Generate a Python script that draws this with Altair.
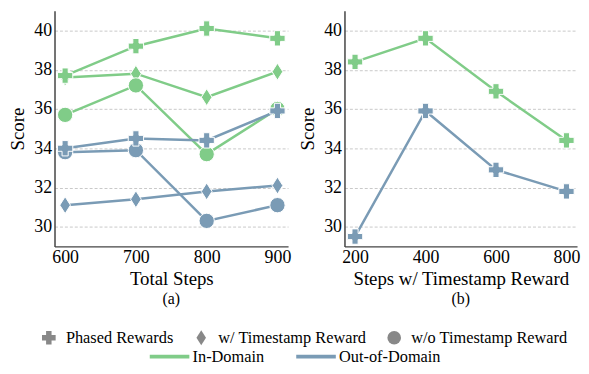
import altair as alt
import pandas as pd

# ---- data ----
steps_a = [600, 700, 800, 900]
in_phased_a = [37.7, 39.2, 40.1, 39.6]
in_ts_a = [37.6, 37.8, 36.6, 37.9]
in_nots_a = [35.7, 37.2, 33.7, 36.0]
out_phased_a = [34.0, 34.5, 34.4, 35.9]
out_ts_a = [31.1, 31.4, 31.8, 32.1]
out_nots_a = [33.8, 33.9, 30.3, 31.1]

steps_b = [200, 400, 600, 800]
in_phased_b = [38.4, 39.6, 36.9, 34.4]
out_phased_b = [29.5, 35.9, 32.9, 31.8]

methods = ["Phased Rewards", "w/ Timestamp Reward", "w/o Timestamp Reward"]
domains = ["In-Domain", "Out-of-Domain"]
colors = ["#80cc88", "#7a9bb5"]
shapes = ["cross", "M0,-1.1L0.7,0L0,1.1L-0.7,0Z", "circle"]

rows_a = []
order = 0
for dom, series in [
    ("In-Domain", [("w/ Timestamp Reward", in_ts_a), ("w/o Timestamp Reward", in_nots_a), ("Phased Rewards", in_phased_a)]),
    ("Out-of-Domain", [("w/ Timestamp Reward", out_ts_a), ("w/o Timestamp Reward", out_nots_a), ("Phased Rewards", out_phased_a)]),
]:
    for m, vals in series:
        for s, v in zip(steps_a, vals):
            rows_a.append({"step": s, "score": v, "domain": dom, "method": m, "ord": order})
            order += 1
df_a = pd.DataFrame(rows_a)

rows_b = []
for dom, vals in [("In-Domain", in_phased_b), ("Out-of-Domain", out_phased_b)]:
    for s, v in zip(steps_b, vals):
        rows_b.append({"step": s, "score": v, "domain": dom, "method": "Phased Rewards"})
df_b = pd.DataFrame(rows_b)

FONT = "Liberation Serif"

color_scale = alt.Scale(domain=domains, range=colors)
shape_scale = alt.Scale(domain=methods, range=shapes)

color_legend = alt.Legend(
    title=None, orient="none", direction="horizontal", legendX=108, legendY=341,
    symbolType="M-4,0L4,0", symbolSize=100, symbolStrokeWidth=4,
    labelFontSize=16.5, labelFont=FONT, labelColor="black",
    columnPadding=24, labelOffset=15,
)
shape_legend = alt.Legend(
    title=None, orient="none", direction="horizontal", legendX=-14, legendY=322,
    symbolSize=190, symbolFillColor="#888888", symbolStrokeColor="#888888", symbolStrokeWidth=0,
    labelFontSize=16.5, labelFont=FONT, labelColor="black",
    columnPadding=19, labelOffset=9,
)

y_enc = alt.Y("score:Q", title="Score",
              scale=alt.Scale(domain=[29, 41], nice=False, zero=False),
              axis=alt.Axis(values=[30, 32, 34, 36, 38, 40]))


def panel(df, xdom, xvals, xtitle, sub, w):
    x_enc = alt.X("step:Q", title=xtitle,
                  scale=alt.Scale(domain=xdom, nice=False, zero=False),
                  axis=alt.Axis(values=xvals, grid=False))
    base = alt.Chart(df)
    lines = base.mark_line(strokeWidth=2.5).encode(
        x=x_enc, y=y_enc,
        color=alt.Color("domain:N", scale=color_scale, legend=color_legend),
        detail="method:N",
    )
    pts = base.mark_point(filled=True, size=240, opacity=1, stroke="white", strokeWidth=1).encode(
        x=x_enc, y=y_enc,
        color=alt.Color("domain:N", scale=color_scale, legend=color_legend),
        shape=alt.Shape("method:N", scale=shape_scale, legend=shape_legend),
    )
    if "ord" in df.columns:
        pts = pts.encode(order="ord:Q")
    return alt.layer(lines, pts).properties(
        width=w, height=238,
        title=alt.TitleParams(sub, orient="bottom", fontSize=16, font=FONT,
                              fontWeight="normal", offset=2, color="black"),
    )


pa = panel(df_a, [585, 915], steps_a, "Total Steps", "(a)", 236)
pb = panel(df_b, [170, 830], steps_b, "Steps w/ Timestamp Reward", "(b)", 235)

chart = alt.hconcat(pa, pb, spacing=6).resolve_scale(
    color="shared", shape="shared"
).properties(padding=0).configure_view(stroke="transparent").configure_axis(
    labelFont=FONT, titleFont=FONT, labelFontSize=18, titleFontSize=19,
    titleFontWeight="normal", labelColor="black", titleColor="black",
    domainColor="#444444", domainWidth=1.5, ticks=False,
    gridColor="#c8c8c8", gridDash=[3, 2], gridWidth=1,
).configure_axisY(labelPadding=3, titlePadding=6).configure_axisX(
    labelPadding=2, titlePadding=4
).configure_legend(padding=0)

chart.save("out.html", embed_options={"renderer": "svg", "actions": False})
